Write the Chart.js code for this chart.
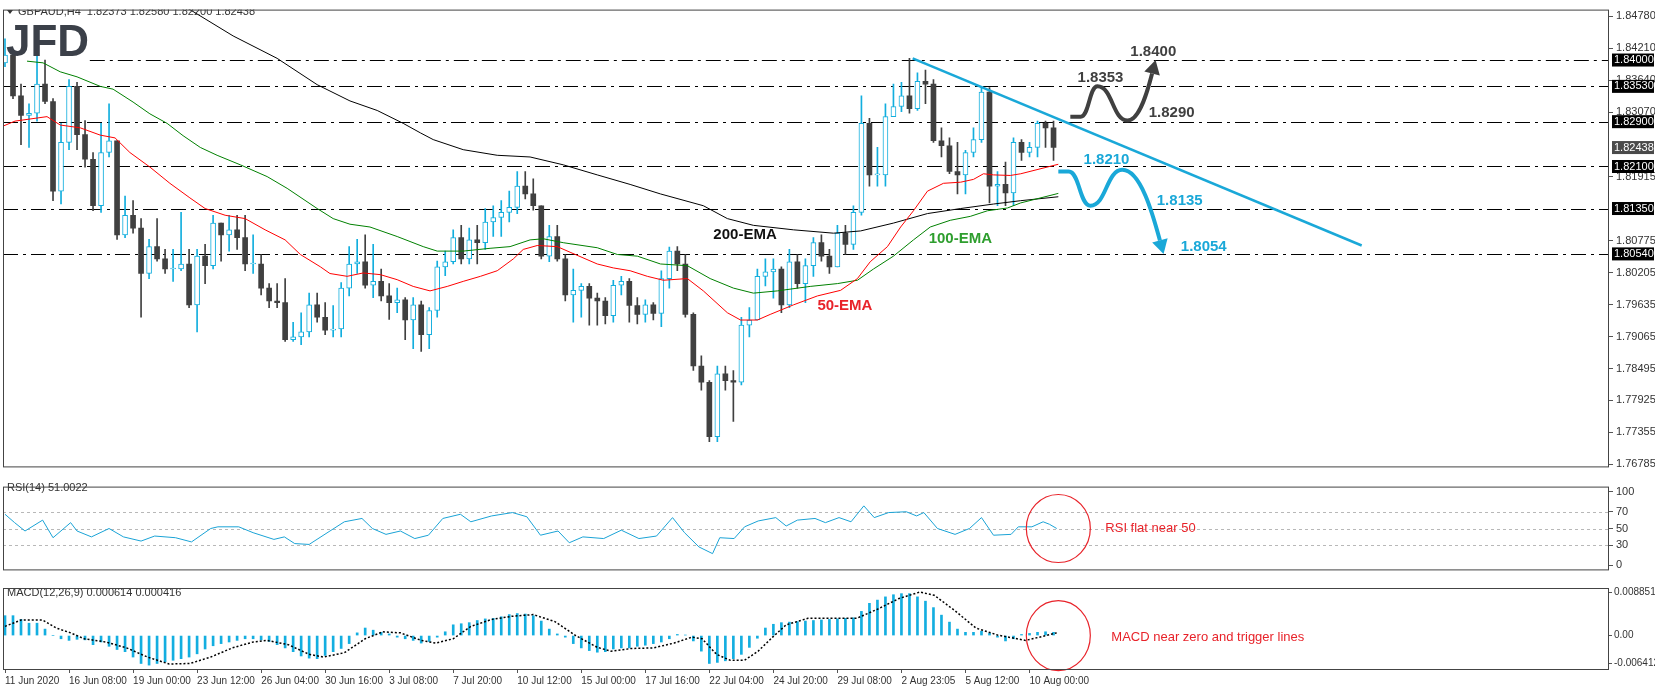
<!DOCTYPE html>
<html lang="en">
<head>
<meta charset="UTF-8">
<title>GBPAUD H4</title>
<script src="https://cdn.jsdelivr.net/npm/chart.js@4.4.0/dist/chart.umd.min.js"></script>
<style>
  body { margin: 0; background: #fff; }
  .pane { position: absolute; left: 0; width: 1655px; }
  canvas { display: block; }
</style>
</head>
<body>
<div class="pane" style="top:0;height:477px"><canvas id="priceChart" width="1655" height="477"></canvas></div>
<div class="pane" style="top:477px;height:103px"><canvas id="rsiChart" width="1655" height="103"></canvas></div>
<div class="pane" style="top:580px;height:111px"><canvas id="macdChart" width="1655" height="111"></canvas></div>
<script>
// ---- data (one candle slot = x index) ----
const firstOpen = 1.8395;
const closes = [1.8409,1.8336,1.8301,1.8305,1.8357,1.8326,1.8166,1.8253,1.8353,1.8267,
  1.8223,1.8140,1.8235,1.8256,1.8088,1.8123,1.8100,1.8019,1.8067,1.8045,
  1.8027,1.8027,1.8036,1.7963,1.8050,1.8033,1.8109,1.8088,1.8097,1.8083,
  1.8036,1.8036,1.7993,1.7970,1.7967,1.7901,1.7906,1.7915,1.7963,1.7941,
  1.7918,1.7920,1.7993,1.8036,1.8040,1.7998,1.8005,1.7979,1.7967,1.7972,
  1.7936,1.7963,1.7910,1.7953,1.8031,1.8040,1.8083,1.8045,1.8079,1.8074,
  1.8111,1.8119,1.8128,1.8137,1.8175,1.8161,1.8140,1.8050,1.8085,1.8045,
  1.7981,1.7989,1.7996,1.7975,1.7970,1.7944,1.7998,1.8005,1.7962,1.7946,
  1.7963,1.7948,1.8010,1.8059,1.8036,1.7946,1.7854,1.7825,1.7728,1.7840,
  1.7828,1.7825,1.7927,1.7936,1.8014,1.8022,1.8027,1.7963,1.8040,1.8001,
  1.8033,1.8074,1.8050,1.8031,1.8091,1.8071,1.8128,1.8287,1.8195,1.8195,
  1.8299,1.8317,1.8336,1.8313,1.8362,1.8357,1.8256,1.8247,1.8201,1.8195,
  1.8235,1.8258,1.8343,1.8175,1.8178,1.8163,1.8253,1.8235,1.8244,1.8287,
  1.8279,1.8244];
const highs = [1.8438,1.8409,1.8357,1.8322,1.8409,1.8400,1.8331,1.8287,1.8365,1.8360,
  1.8292,1.8235,1.8287,1.8322,1.8256,1.8157,1.8149,1.8117,1.8080,1.8117,
  1.8062,1.8062,1.8128,1.8062,1.8062,1.8071,1.8123,1.8097,1.8123,1.8123,
  1.8123,1.8088,1.8053,1.8001,1.8001,1.8010,1.7932,1.7949,1.7984,1.7984,
  1.7967,1.7962,1.8003,1.8067,1.8080,1.8088,1.8071,1.8027,1.8001,1.7993,
  1.7976,1.7976,1.7970,1.7958,1.8041,1.8059,1.8097,1.8105,1.8100,1.8105,
  1.8135,1.8140,1.8149,1.8166,1.8201,1.8201,1.8188,1.8140,1.8105,1.8105,
  1.8053,1.8027,1.8001,1.8001,1.7984,1.7976,1.8007,1.8014,1.8010,1.7976,
  1.7972,1.7967,1.8024,1.8066,1.8067,1.8053,1.7949,1.7872,1.7828,1.7854,
  1.7854,1.7846,1.7941,1.7958,1.8027,1.8045,1.8045,1.8031,1.8062,1.8053,
  1.8045,1.8083,1.8088,1.8062,1.8105,1.8105,1.8140,1.8336,1.8296,1.8244,
  1.8322,1.8357,1.8360,1.8403,1.8377,1.8382,1.8365,1.8279,1.8261,1.8253,
  1.8239,1.8279,1.8351,1.8351,1.8201,1.8218,1.8261,1.8258,1.8253,1.8291,
  1.8291,1.8291];
const lows = [1.8388,1.8331,1.8249,1.8244,1.8291,1.8322,1.8149,1.8143,1.8240,1.8240,
  1.8209,1.8131,1.8128,1.8227,1.8080,1.8083,1.8091,1.7941,1.8010,1.8041,
  1.8019,1.8005,1.8024,1.7958,1.7915,1.8001,1.8027,1.8041,1.8059,1.8062,
  1.8024,1.8019,1.7981,1.7958,1.7958,1.7898,1.7898,1.7892,1.7906,1.7932,
  1.7910,1.7906,1.7906,1.7979,1.8019,1.7993,1.7976,1.7970,1.7937,1.7949,
  1.7901,1.7885,1.7880,1.7885,1.7941,1.8015,1.8036,1.8036,1.8036,1.8036,
  1.8062,1.8085,1.8085,1.8111,1.8126,1.8152,1.8132,1.8045,1.8040,1.8041,
  1.7970,1.7932,1.7941,1.7927,1.7927,1.7929,1.7932,1.7981,1.7932,1.7929,
  1.7932,1.7936,1.7924,1.7993,1.8024,1.7941,1.7846,1.7811,1.7719,1.7719,
  1.7811,1.7755,1.7820,1.7906,1.7936,1.7997,1.7975,1.7949,1.7958,1.7993,
  1.7967,1.8014,1.8041,1.8019,1.8031,1.8053,1.8062,1.8123,1.8175,1.8175,
  1.8175,1.8299,1.8308,1.8305,1.8310,1.8322,1.8253,1.8227,1.8197,1.8161,
  1.8161,1.8227,1.8253,1.8145,1.8140,1.8140,1.8140,1.8221,1.8227,1.8227,
  1.8244,1.8221];

// moving averages, sampled [x index, price]
const ema50 = [[-0.25,1.8282],[1.25,1.8291],[5.25,1.8299],[6.9,1.8284],[9.4,1.8279],[11.9,1.8266],
  [13.75,1.8261],[15.6,1.8235],[18.1,1.8209],[20.6,1.8180],[23.1,1.8154],[25,1.8135],[27.5,1.8123],
  [30,1.8117],[32.5,1.8097],[35,1.8079],[36.9,1.8053],[39.4,1.8031],[40.6,1.8019],[42.75,1.8014],
  [44.75,1.8020],[46.9,1.8017],[49,1.8008],[51,1.7996],[53.1,1.7988],[55.25,1.7996],[57.25,1.8005],
  [59.4,1.8014],[61.5,1.8024],[63.5,1.8045],[64.75,1.8062],[66.5,1.8069],[69,1.8067],[70.6,1.8057],
  [74,1.8036],[76,1.8029],[78.1,1.8024],[80.25,1.8014],[82.25,1.8007],[85.25,1.8010],[87.25,1.7988],
  [90.25,1.7949],[91.9,1.7936],[94,1.7936],[95.6,1.7946],[98.5,1.7963],[101.5,1.7979],[104.4,1.7989],
  [106.5,1.8010],[108.1,1.8040],[110.25,1.8067],[111.9,1.8102],[113.5,1.8131],[115.25,1.8166],
  [117.25,1.8180],[119.4,1.8182],[121,1.8187],[122.25,1.8197],[123.5,1.8195],[125.6,1.8194],
  [126.9,1.8197],[131.6,1.8214]];
const ema100 = [[2.75,1.8398],[4.75,1.8395],[6.9,1.8379],[9,1.8370],[11.9,1.8353],[13.5,1.8348],
  [16,1.8325],[18.1,1.8304],[20.25,1.8287],[22.25,1.8265],[24.4,1.8244],[26.5,1.8230],[29.4,1.8213],
  [32.75,1.8192],[35.25,1.8171],[39,1.8135],[41,1.8117],[43.1,1.8107],[45.6,1.8102],[49,1.8085],
  [52.25,1.8067],[54,1.8059],[57.25,1.8059],[60.6,1.8064],[63.1,1.8067],[65.6,1.8079],[67.25,1.8081],
  [69.75,1.8074],[74,1.8065],[76.5,1.8053],[79,1.8050],[81.9,1.8036],[85.25,1.8033],[88.1,1.8010],
  [91,1.7993],[93.5,1.7984],[96.5,1.7988],[100.6,1.7996],[104,1.8001],[106.5,1.8007],[108.5,1.8027],
  [111,1.8050],[113.5,1.8079],[115.6,1.8102],[118.1,1.8114],[120.6,1.8121],[122.75,1.8131],
  [125.25,1.8136],[126.9,1.8145],[131.6,1.8162]];
const ema200 = [[20.6,1.8512],[23.1,1.8490],[28.5,1.8443],[34,1.8403],[39,1.8356],[43.1,1.8327],
  [46.5,1.8310],[49.75,1.8287],[51.9,1.8270],[53.5,1.8258],[57.25,1.8240],[61.5,1.8230],[65.6,1.8227],
  [69.75,1.8213],[74,1.8195],[78.1,1.8178],[81.9,1.8161],[87.25,1.8140],[90.25,1.8117],[93.5,1.8105],
  [98.5,1.8097],[103.5,1.8091],[106.9,1.8095],[111,1.8109],[115.25,1.8126],[119.4,1.8135],
  [123.5,1.8143],[126.9,1.8149],[131.6,1.8156]];
const trendLine = [[113.4,1.8403],[169.5,1.8069]];

const levels = [1.8400, 1.8353, 1.8290, 1.8210, 1.8135, 1.8054];
const levelBoxes = ['1.84000','1.83530','1.82900','1.82100','1.81350','1.80540'];
const lastPrice = 1.82438;
const priceTicks = [1.84780,1.84210,1.83640,1.83070,1.81915,1.80775,1.80205,1.79635,
  1.79065,1.78495,1.77925,1.77355,1.76785];

const dateTicks = [0,8,16,24,32,40,48,56,64,72,80,88,96,104,112,120,128];
const dateLabels = ['11 Jun 2020','16 Jun 08:00','19 Jun 00:00','23 Jun 12:00','26 Jun 04:00',
  '30 Jun 16:00','3 Jul 08:00','7 Jul 20:00','10 Jul 12:00','15 Jul 00:00','17 Jul 16:00',
  '22 Jul 04:00','24 Jul 20:00','29 Jul 08:00','2 Aug 23:05','5 Aug 12:00','10 Aug 00:00'];

const rsiPts = [[0,67],[1.2,57],[2.5,47],[4.7,60],[6,39],[8.2,57],[9,47],[10.8,40],[13,50],[14.8,40],
  [17,35],[18.7,41],[21.3,39],[23.3,34],[25.7,50],[26.6,52],[29.2,52],[31,45],[33.6,37],[34.9,40],
  [36.2,32],[38,31],[40.6,47],[42.4,58],[44.6,62],[45.9,50],[47.6,43],[49.4,47],[51.2,38],[52.9,42],
  [54.7,62],[56.9,67],[58.2,58],[60.8,65],[63.4,69],[65.2,64],[66.9,42],[69.1,47],[70.5,33],[72.2,40],
  [74.8,38],[77,48],[79.2,38],[81.4,41],[83.4,63],[84.9,45],[86.7,28],[88.4,20],[89.3,39],[91.1,38],
  [92.4,52],[94.1,59],[96.3,63],[97.6,53],[99,60],[101.2,62],[102.5,57],[104.2,63],[105.7,58],
  [107.3,77],[108.6,63],[110.4,69],[112.6,70],[113.9,65],[114.8,69],[116.5,50],[118.7,43],[120.5,50],
  [122,63],[123.5,42],[125.7,43],[126.6,52],[128.3,52],[129.7,58],[130.5,55],[131.4,50]];
const rsiTicks = [94, 70, 50, 30, 6];
const rsiTickLabels = ['100', '70', '50', '30', '0'];

// MACD main histogram per candle, in units of 0.0001
const macdHist = [37,37,30,23,23,12,0,-6,-9,-7,-8,-17,-12,-20,-26,-30,-40,-52,-55,-52,
  -49,-46,-43,-40,-34,-25,-19,-15,-12,-9,-6,-6,-8,-11,-17,-23,-30,-38,-42,-43,
  -37,-30,-24,-15,5,14,10,6,3,-3,-6,-9,-14,-11,-3,7,20,22,24,28,
  31,32,35,39,41,40,37,27,12,3,-3,-15,-23,-28,-31,-30,-25,-23,-23,-20,
  -18,-15,-12,-6,2,1,-10,-29,-52,-50,-47,-43,-35,-22,-5,14,21,24,25,26,
  27,28,29,30,31,32,33,45,60,66,72,76,78,78,72,64,52,38,25,12,
  6,6,8,4,-3,-10,-6,2,4,6,7,6];
// MACD signal [x index, value in 0.0001]
const macdSignal = [[0,17],[2,29],[4.7,29],[6.4,14],[8.2,5],[9.9,-6],[12.6,-12],[15.2,-23],[17.8,-40],
  [20.5,-53],[23.1,-52],[25.7,-40],[28.4,-23],[31,-12],[32.7,-9],[35.4,-17],[38,-35],[39.8,-40],
  [42.4,-32],[45,-6],[47.2,7],[49.4,5],[52,-9],[53.8,-14],[56,-6],[58.2,17],[60.8,30],[63.4,36],
  [66,39],[68.7,26],[71.3,0],[74,-22],[75.7,-29],[78.3,-24],[81,-23],[83.6,-14],[85.8,-3],[87.1,-6],
  [88.9,-35],[90.6,-46],[92.4,-46],[94.1,-29],[95.9,-3],[97.6,20],[100.3,32],[103.8,32],[106.4,32],
  [109,49],[111.7,69],[114.3,81],[116.1,75],[118.7,46],[121.3,14],[124,1],[127.5,-9],[130.1,0],[131.4,5]];
const macdTicks = [0.00798, 0, -0.0052];
const macdTickLabels = ['0.008851', '0.00', '-0.006412'];

// ---- styling ----
const BULL = '#12aede', BEAR = '#404040', TEXT = '#333333';
const FONT = 'Liberation Sans, Arial, sans-serif';
const X_MIN = -0.25, X_MAX = 200.4;

const opens = closes.map((c, i) => i === 0 ? firstOpen : closes[i - 1]);
const bullBodies = [], bearBodies = [], wicks = [];
closes.forEach((c, i) => {
  const o = opens[i];
  const body = { x: i, y: [o, c] };
  (c >= o ? bullBodies : bearBodies).push(body);
  wicks.push({ x: i, y: [Math.min(lows[i], o, c), Math.max(highs[i], o, c)], bull: c >= o });
});
const toXY = arr => arr.map(p => ({ x: p[0], y: p[1] }));

function rightAxis(extra) {
  return Object.assign({
    position: 'right',
    afterFit: s => { s.width = 46; },
    border: { display: false },
    grid: { drawOnChartArea: false, tickLength: 4, color: '#555' },
    ticks: { color: TEXT, font: { family: FONT, size: 11 }, padding: 3 }
  }, extra);
}
function hiddenX() {
  return { type: 'linear', min: X_MIN, max: X_MAX, offset: false, display: false };
}

const frame = {
  id: 'frame',
  afterDraw(chart) {
    const { ctx, chartArea: a } = chart;
    ctx.save();
    ctx.strokeStyle = '#444';
    ctx.lineWidth = 1;
    ctx.strokeRect(a.left + 0.5, a.top + 0.5, a.right - a.left - 1, a.bottom - a.top - 1);
    ctx.restore();
  }
};

function sCurve(ctx, p0, p1) {
  const dx = (p1.x - p0.x) / 2;
  ctx.bezierCurveTo(p0.x + dx, p0.y, p1.x - dx, p1.y, p1.x, p1.y);
}

function scenario(chart, pts, color) {
  const { ctx, scales: { x, y } } = chart;
  const p = pts.map(q => ({ x: x.getPixelForValue(q[0]), y: y.getPixelForValue(q[1]) }));
  ctx.save();
  ctx.strokeStyle = color;
  ctx.fillStyle = color;
  ctx.lineWidth = 4;
  ctx.beginPath();
  ctx.moveTo(p[0].x, p[0].y);
  ctx.lineTo(p[1].x, p[1].y);
  sCurve(ctx, p[1], p[2]);
  sCurve(ctx, p[2], p[3]);
  const t = p[3], tip = p[4];
  const c2 = { x: tip.x - (tip.x - t.x) * 0.25, y: tip.y + (t.y - tip.y) * 0.45 };
  const ang = Math.atan2(tip.y - c2.y, tip.x - c2.x);
  const base = { x: tip.x - Math.cos(ang) * 14, y: tip.y - Math.sin(ang) * 14 };
  ctx.bezierCurveTo(t.x + (tip.x - t.x) * 0.45, t.y, c2.x, c2.y, base.x, base.y);
  ctx.stroke();
  ctx.beginPath();
  ctx.moveTo(tip.x, tip.y);
  ctx.lineTo(base.x + Math.cos(ang + Math.PI / 2) * 8, base.y + Math.sin(ang + Math.PI / 2) * 8);
  ctx.lineTo(base.x - Math.cos(ang + Math.PI / 2) * 8, base.y - Math.sin(ang + Math.PI / 2) * 8);
  ctx.closePath();
  ctx.fill();
  ctx.restore();
}

const upPath = [[133.1,1.8299],[134.4,1.8299],[136.5,1.8353],[140.25,1.8292],[143.75,1.8400]];
const downPath = [[131.6,1.8201],[132.9,1.8201],[135.6,1.8140],[139.6,1.8204],[144.75,1.8054]];
const priceNotes = [
  ['200-EMA', 88.5, 1.8088, '#111111'], ['100-EMA', 115.4, 1.8081, '#2e9e2e'], ['50-EMA', 101.5, 1.7962, '#e8232a'],
  ['1.8353', 134, 1.8369, '#404040'], ['1.8400', 140.6, 1.8414, '#404040'], ['1.8290', 142.9, 1.8305, '#404040'],
  ['1.8210', 134.75, 1.8221, '#1aa8d8'], ['1.8135', 143.9, 1.8149, '#1aa8d8'], ['1.8054', 146.9, 1.8067, '#1aa8d8']
];

const priceOverlay = {
  id: 'priceOverlay',
  beforeDatasetsDraw(chart) {
    const { ctx, chartArea: a, scales: { x, y } } = chart;
    ctx.save();
    ctx.strokeStyle = '#000';
    ctx.lineWidth = 1;
    ctx.setLineDash([15, 5, 3, 5]);
    levels.forEach((lv, k) => {
      const py = Math.round(y.getPixelForValue(lv)) + 0.5;
      ctx.beginPath();
      ctx.moveTo(k === 0 ? x.getPixelForValue(10.6) : a.left, py);
      ctx.lineTo(a.right, py);
      ctx.stroke();
    });
    ctx.restore();
  },
  afterDraw(chart) {
    const { ctx, chartArea: a, scales: { x, y } } = chart;
    ctx.save();
    ctx.beginPath();
    ctx.rect(a.left, a.top, a.right - a.left, a.bottom - a.top);
    ctx.clip();
    scenario(chart, upPath, '#404040');
    scenario(chart, downPath, '#1aa8d8');
    ctx.textBaseline = 'middle';
    ctx.font = 'bold 15px ' + FONT;
    priceNotes.forEach(n => {
      ctx.fillStyle = n[3];
      ctx.fillText(n[0], x.getPixelForValue(n[1]), y.getPixelForValue(n[2]));
    });
    // logo and title
    ctx.fillStyle = '#3b4049';
    ctx.font = 'bold 44px ' + FONT;
    ctx.textBaseline = 'alphabetic';
    ctx.fillText('JFD', 6, 56);
    ctx.fillStyle = TEXT;
    ctx.font = '11px ' + FONT;
    ctx.textBaseline = 'middle';
    ctx.fillText('GBPAUD,H4  1.82373 1.82580 1.82200 1.82438', 18, 12);
    ctx.beginPath();
    ctx.moveTo(7, 10); ctx.lineTo(13, 10); ctx.lineTo(10, 14); ctx.closePath();
    ctx.fill();
    ctx.restore();
    // price boxes on the axis
    ctx.save();
    ctx.font = '11px ' + FONT;
    ctx.textBaseline = 'middle';
    const box = (val, txt, bg) => {
      const py = y.getPixelForValue(val);
      ctx.fillStyle = bg;
      ctx.fillRect(a.right + 3, py - 6.5, 42, 13);
      ctx.fillStyle = '#fff';
      ctx.fillText(txt, a.right + 5, py);
    };
    levels.forEach((lv, k) => box(lv, levelBoxes[k], '#000'));
    box(lastPrice, lastPrice.toFixed(5), '#4a4a4a');
    ctx.restore();
  }
};

new Chart(document.getElementById('priceChart'), {
  type: 'bar',
  data: {
    datasets: [
      { type: 'line', data: toXY(ema50), borderColor: '#ff0000', borderWidth: 1, pointRadius: 0, order: 0 },
      { type: 'line', data: toXY(ema100), borderColor: '#008000', borderWidth: 1, pointRadius: 0, order: 0 },
      { type: 'line', data: toXY(ema200), borderColor: '#000000', borderWidth: 1, pointRadius: 0, order: 0 },
      { type: 'line', data: toXY(trendLine), borderColor: '#1aa8d8', borderWidth: 2.5, pointRadius: 0, order: 0 },
      { data: bullBodies, backgroundColor: '#ffffff', borderColor: BULL, borderWidth: 1,
        borderSkipped: false, barThickness: 5, minBarLength: 1, grouped: false, order: 1 },
      { data: bearBodies, backgroundColor: BEAR, borderColor: BEAR, borderWidth: 0,
        barThickness: 5, minBarLength: 1, grouped: false, order: 1 },
      { data: wicks, backgroundColor: c => c.raw && c.raw.bull ? BULL : BEAR,
        barThickness: 1, grouped: false, order: 2 }
    ]
  },
  options: {
    responsive: false, animation: false, devicePixelRatio: 1,
    layout: { padding: { left: 3, top: 3, right: 0, bottom: 2 } },
    plugins: { legend: { display: false }, tooltip: { enabled: false } },
    scales: {
      x: hiddenX(),
      y: rightAxis({
        min: 1.7673, max: 1.8490,
        afterBuildTicks: s => { s.ticks = priceTicks.map(v => ({ value: v })); },
        ticks: { color: TEXT, font: { family: FONT, size: 11 }, padding: 3, callback: v => v.toFixed(5) }
      })
    }
  },
  plugins: [priceOverlay, frame]
});

const rsiOverlay = {
  id: 'rsiOverlay',
  beforeDatasetsDraw(chart) {
    const { ctx, chartArea: a, scales: { y } } = chart;
    ctx.save();
    ctx.strokeStyle = '#b8b8b8';
    ctx.setLineDash([3, 3]);
    [70, 50, 30].forEach(v => {
      const py = Math.round(y.getPixelForValue(v)) + 0.5;
      ctx.beginPath(); ctx.moveTo(a.left, py); ctx.lineTo(a.right, py); ctx.stroke();
    });
    ctx.restore();
  },
  afterDraw(chart) {
    const { ctx, scales: { x, y } } = chart;
    ctx.save();
    ctx.fillStyle = TEXT;
    ctx.font = '11px ' + FONT;
    ctx.textBaseline = 'middle';
    ctx.fillText('RSI(14) 51.0022', 7, 11);
    const cx = x.getPixelForValue(131.6), cy = y.getPixelForValue(50);
    ctx.strokeStyle = '#e8232a';
    ctx.lineWidth = 1.2;
    ctx.beginPath(); ctx.ellipse(cx, cy, 32, 34, 0, 0, Math.PI * 2); ctx.stroke();
    ctx.fillStyle = '#e8232a';
    ctx.font = '13px ' + FONT;
    ctx.fillText('RSI flat near 50', cx + 47, cy);
    ctx.restore();
  }
};

new Chart(document.getElementById('rsiChart'), {
  type: 'line',
  data: { datasets: [{ data: toXY(rsiPts), borderColor: '#1aa3d6', borderWidth: 1, pointRadius: 0 }] },
  options: {
    responsive: false, animation: false, devicePixelRatio: 1,
    layout: { padding: { left: 3, top: 1, right: 0, bottom: 2 } },
    plugins: { legend: { display: false }, tooltip: { enabled: false } },
    scales: {
      x: hiddenX(),
      y: rightAxis({
        min: 0, max: 100,
        afterBuildTicks: s => { s.ticks = rsiTicks.map(v => ({ value: v })); },
        ticks: { color: TEXT, font: { family: FONT, size: 11 }, padding: 3,
          callback: v => rsiTickLabels[rsiTicks.indexOf(v)] }
      })
    }
  },
  plugins: [rsiOverlay, frame]
});

const macdOverlay = {
  id: 'macdOverlay',
  afterDraw(chart) {
    const { ctx, scales: { x, y } } = chart;
    ctx.save();
    ctx.fillStyle = TEXT;
    ctx.font = '11px ' + FONT;
    ctx.textBaseline = 'middle';
    ctx.fillText('MACD(12,26,9) 0.000614 0.000416', 7, 13);
    const cx = x.getPixelForValue(131.6), cy = y.getPixelForValue(0);
    ctx.strokeStyle = '#e8232a';
    ctx.lineWidth = 1.2;
    ctx.beginPath(); ctx.ellipse(cx, cy, 32, 35, 0, 0, Math.PI * 2); ctx.stroke();
    ctx.fillStyle = '#e8232a';
    ctx.font = '13px ' + FONT;
    ctx.fillText('MACD near zero and trigger lines', cx + 53, cy + 2);
    ctx.restore();
  }
};

new Chart(document.getElementById('macdChart'), {
  type: 'bar',
  data: {
    datasets: [
      { type: 'line', data: macdSignal.map(p => ({ x: p[0], y: p[1] / 10000 })), borderColor: '#000',
        borderWidth: 1.5, borderDash: [2, 2], pointRadius: 0, order: 0 },
      { data: macdHist.map((v, i) => ({ x: i, y: v / 10000 })), backgroundColor: '#13aee0',
        barThickness: 2, grouped: false, order: 1 }
    ]
  },
  options: {
    responsive: false, animation: false, devicePixelRatio: 1,
    layout: { padding: { left: 3, top: 2, right: 0, bottom: 0 } },
    plugins: { legend: { display: false }, tooltip: { enabled: false } },
    scales: {
      x: {
        type: 'linear', min: X_MIN, max: X_MAX, offset: false,
        afterFit: s => { s.height = 21; },
        afterBuildTicks: s => { s.ticks = dateTicks.map(v => ({ value: v })); },
        border: { display: false },
        grid: { drawOnChartArea: false, offset: false, tickLength: 3, color: '#555' },
        ticks: {
          autoSkip: false, maxRotation: 0, align: 'start', padding: 2,
          color: TEXT, font: { family: FONT, size: 10 },
          callback: v => dateLabels[dateTicks.indexOf(v)]
        }
      },
      y: rightAxis({
        min: -0.006412, max: 0.008851,
        grid: { drawOnChartArea: false, tickLength: 3, color: '#555' },
        afterBuildTicks: s => { s.ticks = macdTicks.map(v => ({ value: v })); },
        ticks: { color: TEXT, font: { family: FONT, size: 10 }, padding: 2,
          callback: v => macdTickLabels[macdTicks.indexOf(v)] }
      })
    }
  },
  plugins: [macdOverlay, frame]
});
</script>
</body>
</html>
